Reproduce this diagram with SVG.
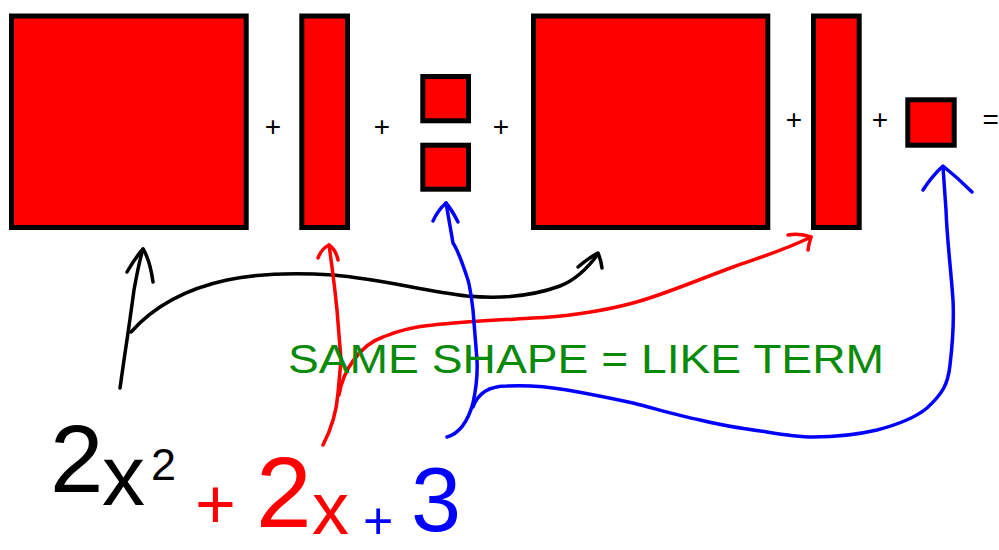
<svg xmlns="http://www.w3.org/2000/svg" width="999" height="550" viewBox="0 0 999 550">
<style>
.tile{fill:#ff0000;stroke:#000;stroke-width:5}
.op{font-family:"Liberation Sans",Arial,sans-serif;font-size:28px;fill:#000;text-anchor:middle}
.ink{fill:none;stroke-width:3.5;stroke-linecap:round;stroke-linejoin:round}
.k{stroke:#000}.r{stroke:#ff0000}.b{stroke:#0000ff}
.hand{font-family:"Liberation Sans",Arial,sans-serif}
.label{font-family:"Liberation Sans",Arial,sans-serif;font-size:41px;fill:#0a8a0a}
</style>
<rect width="999" height="550" fill="#fff"/>
<g id="x2-tile-1"><rect class="tile" x="11.5" y="16" width="234.7" height="211.5"/></g>
<g id="plus-1"><text class="op" x="273" y="136">+</text></g>
<g id="x-tile-1"><rect class="tile" x="301.8" y="16" width="45.7" height="211.5"/></g>
<g id="plus-2"><text class="op" x="382" y="136">+</text></g>
<g id="unit-tile-1"><rect class="tile" x="422.8" y="76.5" width="45.7" height="44.3"/></g>
<g id="unit-tile-2"><rect class="tile" x="422.8" y="145.2" width="45.7" height="44"/></g>
<g id="plus-3"><text class="op" x="501" y="136">+</text></g>
<g id="x2-tile-2"><rect class="tile" x="533.5" y="16" width="234.3" height="211.5"/></g>
<g id="plus-4"><text class="op" x="794" y="129">+</text></g>
<g id="x-tile-2"><rect class="tile" x="813.5" y="16" width="45.7" height="211.5"/></g>
<g id="plus-5"><text class="op" x="880" y="129">+</text></g>
<g id="unit-tile-3"><rect class="tile" x="907.8" y="99.8" width="46.4" height="45.4"/></g>
<g id="equals"><text class="op" x="982.5" y="129" style="text-anchor:start">=</text></g>

<g id="connectors">
<path class="ink k" d="M120,388 L124,360 Q130,320 134,290 Q139,262 143,249"/>
<path class="ink k" d="M127,272 Q135,258 143,249 Q150,260 153,282"/>
<path class="ink k" d="M131,332 C155,305 190,288 227,280 C260,273 300,273 333,275 C380,279 420,290 467,296 C500,299 530,297 560,286 C578,279 590,265 598,254"/>
<path class="ink k" d="M578,267 Q590,257 598,253 Q601,260 602,268"/>

<path class="ink r" d="M323,445 Q336,420 338,393 L341,360 L337,310 Q334,280 329,245"/>
<path class="ink r" d="M318,258 Q322,248 329,245 Q336,250 338,260"/>
<path class="ink r" d="M339,395 C343,370 360,345 383,337 C400,330 420,326 433,325 C460,322 500,320 533,318 C560,317 600,312 633,303 C660,296 690,283 733,267 C755,259 785,250 811,237"/>
<path class="ink r" d="M788,235 Q800,233 811,237 Q809,243 808,250"/>

<path class="ink b" d="M447,437 Q465,432 473,403 Q478,380 477,360 L473,310 Q470,285 467,277 Q458,250 453,243 L446,203"/>
<path class="ink b" d="M433,221 Q438,210 446,203 Q452,210 458,222"/>
<path class="ink b" d="M473,407 C478,393 490,386 507,386 C530,385 550,387 567,390 C590,394 610,398 633,403 C660,410 680,416 700,420 C720,425 745,429 767,432 C785,435 800,437 813,437 C840,437 860,434 877,430 C900,424 915,418 927,408 C942,394 948,385 950,365 C953,340 954,320 953,300 C951,270 947,240 946,210 L943,167"/>
<path class="ink b" d="M923,190 Q932,176 943,166 Q958,178 972,192"/>
</g>

<g id="label"><text class="label" x="288" y="373" textLength="596" lengthAdjust="spacingAndGlyphs">SAME SHAPE = LIKE TERM</text></g>

<g id="expression">
<text class="hand" fill="#000"><tspan x="50" y="492" font-size="96">2</tspan><tspan x="102" y="505" font-size="86">x</tspan><tspan x="151" y="480" font-size="45">2</tspan></text>
<text class="hand" fill="#ff0000" x="195" y="528" font-size="70">+</text>
<text class="hand" fill="#ff0000" x="256" y="527" font-size="100">2</text>
<text class="hand" fill="#ff0000" x="312" y="534" font-size="74">x</text>
<text class="hand" fill="#0000ff" x="363" y="539" font-size="52">+</text>
<text class="hand" fill="#0000ff" x="411" y="531" font-size="90">3</text>
</g>
</svg>
